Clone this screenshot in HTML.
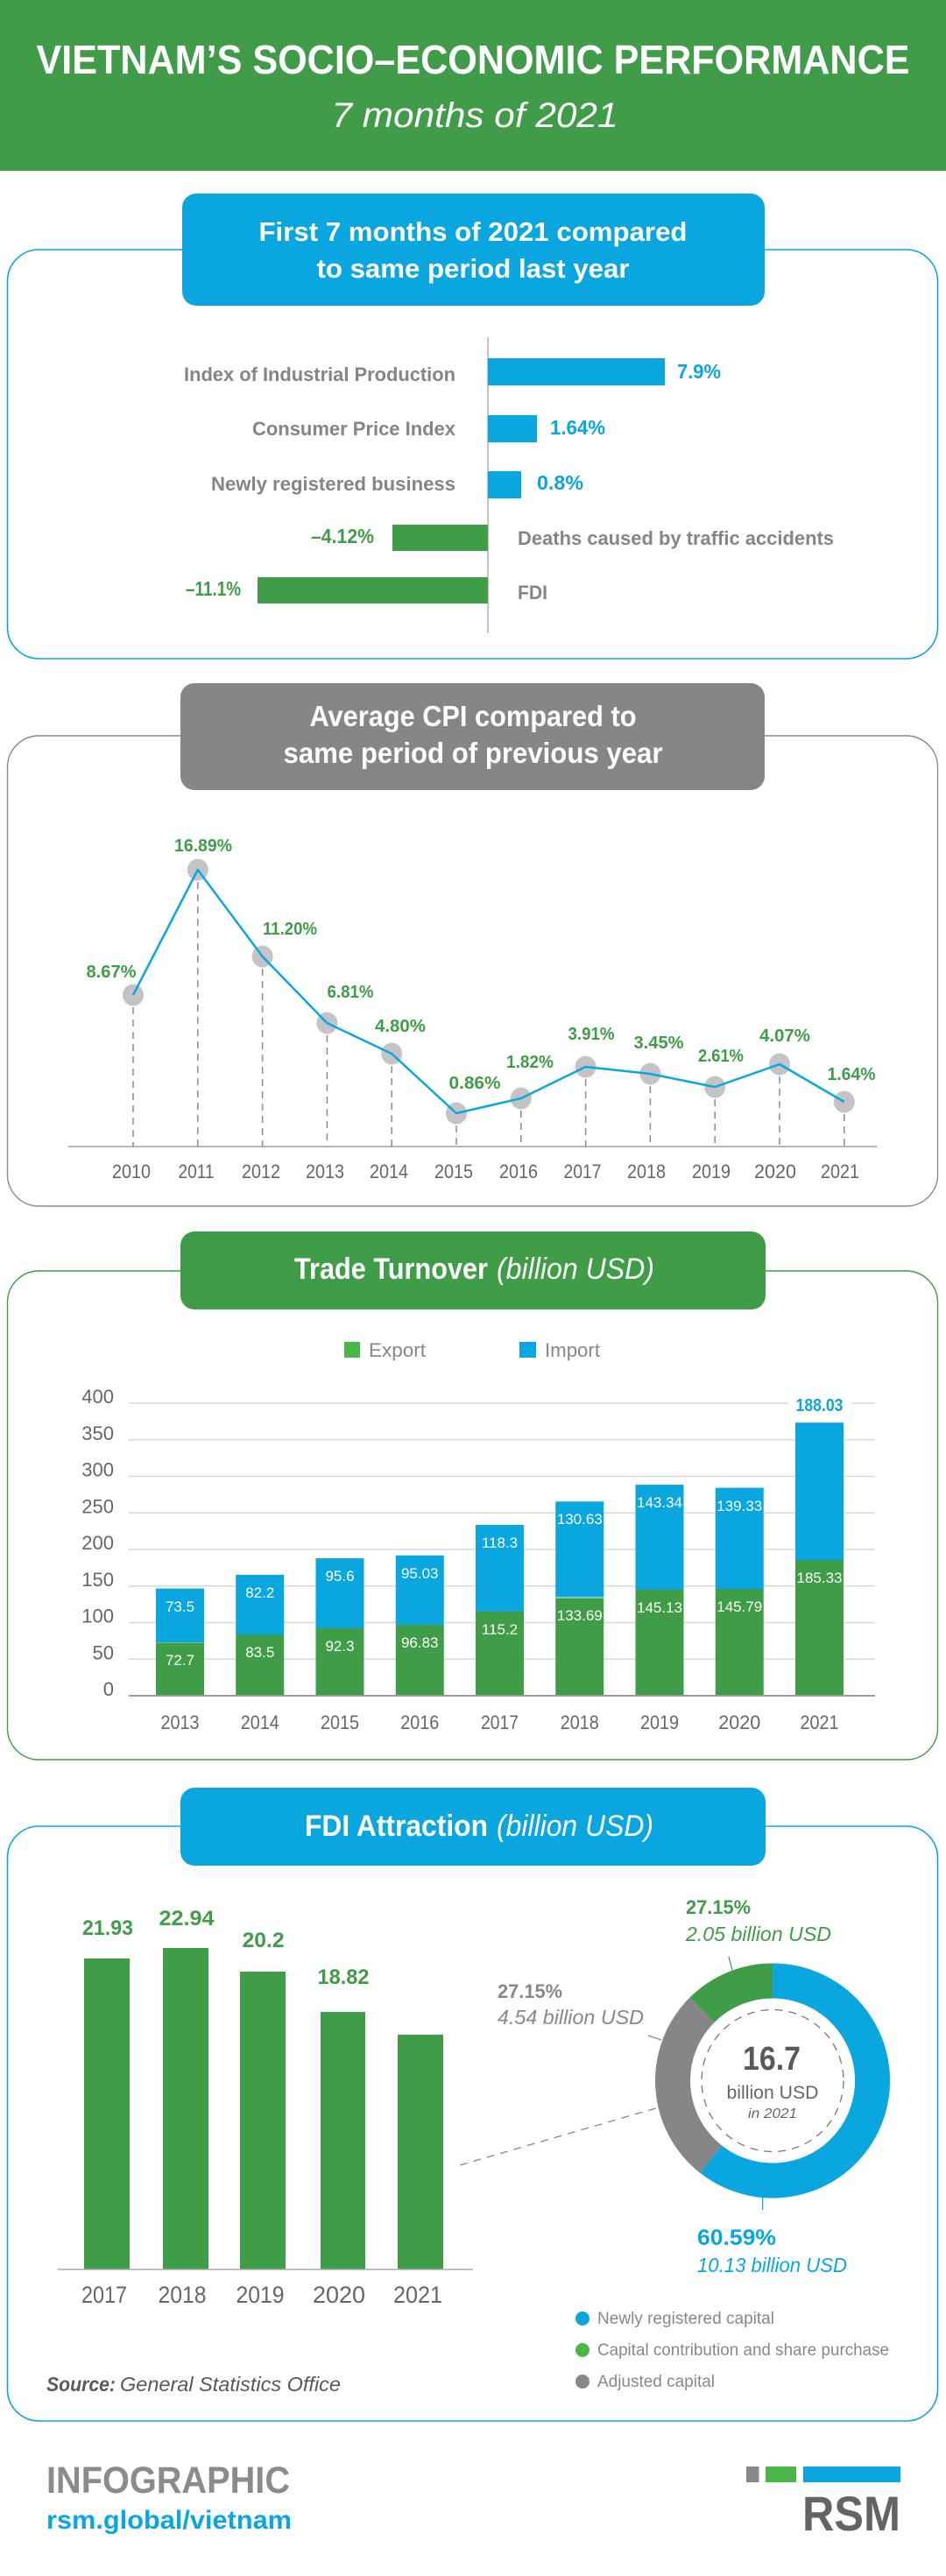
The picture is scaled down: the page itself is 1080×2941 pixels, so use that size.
<!DOCTYPE html>
<html>
<head>
<meta charset="utf-8">
<style>
html,body{margin:0;padding:0;background:#fff;}
svg{display:block;}
</style>
</head>
<body>
<svg width="1080" height="2941" viewBox="0 0 1080 2941" xmlns="http://www.w3.org/2000/svg" font-family="'Liberation Sans', sans-serif">
<rect x="0" y="0" width="1080" height="2941" fill="#ffffff"/>

<!-- HEADER -->
<rect x="0" y="0" width="1080" height="195" fill="#409c48"/>
<text x="540" y="84" text-anchor="middle" font-size="46" font-weight="bold" fill="#fff" textLength="997" lengthAdjust="spacingAndGlyphs">VIETNAM’S SOCIO–ECONOMIC PERFORMANCE</text>
<text x="542" y="145" text-anchor="middle" font-size="40" font-style="italic" fill="#fff" textLength="327" lengthAdjust="spacingAndGlyphs">7 months of 2021</text>

<!-- SECTION 1 -->
<rect x="8.5" y="285" width="1062" height="467" rx="36" fill="none" stroke="#0aa6e0" stroke-width="1.6"/>
<rect x="208" y="221" width="665" height="128" rx="16" fill="#0aa6e0"/>
<text x="540" y="275" text-anchor="middle" font-size="31" font-weight="bold" fill="#fff" textLength="489" lengthAdjust="spacingAndGlyphs">First 7 months of 2021 compared</text>
<text x="540" y="317" text-anchor="middle" font-size="31" font-weight="bold" fill="#fff" textLength="357" lengthAdjust="spacingAndGlyphs">to same period last year</text>

<line x1="557" y1="385" x2="557" y2="723" stroke="#8a8a8a" stroke-width="1"/>
<rect x="557" y="409" width="202" height="31" fill="#0aa6e0"/>
<rect x="557" y="474" width="56" height="31" fill="#0aa6e0"/>
<rect x="557" y="538" width="38" height="31" fill="#0aa6e0"/>
<rect x="448" y="599" width="109" height="30" fill="#3f9c47"/>
<rect x="294" y="659" width="263" height="30" fill="#3f9c47"/>

<g font-size="22" font-weight="bold" fill="#858585">
<text x="210" y="435" textLength="310" lengthAdjust="spacingAndGlyphs">Index of Industrial Production</text>
<text x="288" y="497" textLength="232" lengthAdjust="spacingAndGlyphs">Consumer Price Index</text>
<text x="241" y="560" textLength="279" lengthAdjust="spacingAndGlyphs">Newly registered business</text>
<text x="591" y="622" textLength="361" lengthAdjust="spacingAndGlyphs">Deaths caused by traffic accidents</text>
<text x="591" y="684" textLength="34" lengthAdjust="spacingAndGlyphs">FDI</text>
</g>
<g font-size="23" font-weight="bold">
<text x="773" y="432" fill="#0aa6e0" textLength="50" lengthAdjust="spacingAndGlyphs">7.9%</text>
<text x="628" y="496" fill="#0aa6e0" textLength="63" lengthAdjust="spacingAndGlyphs">1.64%</text>
<text x="613" y="559" fill="#0aa6e0" textLength="53" lengthAdjust="spacingAndGlyphs">0.8%</text>
<text x="355" y="620" fill="#3f9c47" textLength="72" lengthAdjust="spacingAndGlyphs">–4.12%</text>
<text x="212" y="680" fill="#3f9c47" textLength="63" lengthAdjust="spacingAndGlyphs">–11.1%</text>
</g>

<!-- SECTION 2 CPI -->
<rect x="8.5" y="840" width="1062" height="537" rx="36" fill="none" stroke="#8a8a8c" stroke-width="1.4"/>
<rect x="206" y="780" width="667" height="122" rx="16" fill="#858688"/>
<text x="540" y="829" text-anchor="middle" font-size="33" font-weight="bold" fill="#fff" textLength="373" lengthAdjust="spacingAndGlyphs">Average CPI compared to</text>
<text x="540" y="871" text-anchor="middle" font-size="33" font-weight="bold" fill="#fff" textLength="433" lengthAdjust="spacingAndGlyphs">same period of previous year</text>

<line x1="78" y1="1309" x2="1001" y2="1309" stroke="#b8b8b8" stroke-width="2"/>
<g stroke="#8a8a8a" stroke-width="1.5" stroke-dasharray="8 6">
<line x1="152" y1="1136" x2="152" y2="1309"/>
<line x1="225.8" y1="993" x2="225.8" y2="1309"/>
<line x1="299.6" y1="1092" x2="299.6" y2="1309"/>
<line x1="373.4" y1="1168" x2="373.4" y2="1309"/>
<line x1="447.2" y1="1203" x2="447.2" y2="1309"/>
<line x1="521" y1="1271" x2="521" y2="1309"/>
<line x1="594.8" y1="1254" x2="594.8" y2="1309"/>
<line x1="668.6" y1="1218" x2="668.6" y2="1309"/>
<line x1="742.4" y1="1226" x2="742.4" y2="1309"/>
<line x1="816.2" y1="1241" x2="816.2" y2="1309"/>
<line x1="890" y1="1215" x2="890" y2="1309"/>
<line x1="963.8" y1="1258" x2="963.8" y2="1309"/>
</g>
<g fill="#c4c4c6">
<ellipse cx="152" cy="1136" rx="12" ry="12.5"/>
<ellipse cx="225.8" cy="993" rx="12" ry="12.5"/>
<ellipse cx="299.6" cy="1092" rx="12" ry="12.5"/>
<ellipse cx="373.4" cy="1168" rx="12" ry="12.5"/>
<ellipse cx="447.2" cy="1203" rx="12" ry="12.5"/>
<ellipse cx="521" cy="1271" rx="12" ry="12.5"/>
<ellipse cx="594.8" cy="1254" rx="12" ry="12.5"/>
<ellipse cx="668.6" cy="1218" rx="12" ry="12.5"/>
<ellipse cx="742.4" cy="1226" rx="12" ry="12.5"/>
<ellipse cx="816.2" cy="1241" rx="12" ry="12.5"/>
<ellipse cx="890" cy="1215" rx="12" ry="12.5"/>
<ellipse cx="963.8" cy="1258" rx="12" ry="12.5"/>
</g>
<polyline fill="none" stroke="#0aa6e0" stroke-width="2.5" stroke-linejoin="round" points="152,1136 225.8,993 299.6,1092 373.4,1168 447.2,1203 521,1271 594.8,1254 668.6,1218 742.4,1226 816.2,1241 890,1215 963.8,1258"/>

<g font-size="20" font-weight="bold" fill="#3f9c47" text-anchor="middle">
<text x="127" y="1116" textLength="57" lengthAdjust="spacingAndGlyphs">8.67%</text>
<text x="232" y="972" textLength="66" lengthAdjust="spacingAndGlyphs">16.89%</text>
<text x="331" y="1067" textLength="62" lengthAdjust="spacingAndGlyphs">11.20%</text>
<text x="400" y="1139" textLength="53" lengthAdjust="spacingAndGlyphs">6.81%</text>
<text x="457" y="1178" textLength="58" lengthAdjust="spacingAndGlyphs">4.80%</text>
<text x="542" y="1243" textLength="59" lengthAdjust="spacingAndGlyphs">0.86%</text>
<text x="605" y="1219" textLength="54" lengthAdjust="spacingAndGlyphs">1.82%</text>
<text x="675" y="1187" textLength="53" lengthAdjust="spacingAndGlyphs">3.91%</text>
<text x="752" y="1197" textLength="57" lengthAdjust="spacingAndGlyphs">3.45%</text>
<text x="823" y="1212" textLength="52" lengthAdjust="spacingAndGlyphs">2.61%</text>
<text x="896" y="1189" textLength="58" lengthAdjust="spacingAndGlyphs">4.07%</text>
<text x="972" y="1233" textLength="55" lengthAdjust="spacingAndGlyphs">1.64%</text>
</g>
<g font-size="22" fill="#666" text-anchor="middle">
<text x="150" y="1345" textLength="44" lengthAdjust="spacingAndGlyphs">2010</text>
<text x="224" y="1345" textLength="41" lengthAdjust="spacingAndGlyphs">2011</text>
<text x="298" y="1345" textLength="44" lengthAdjust="spacingAndGlyphs">2012</text>
<text x="371" y="1345" textLength="44" lengthAdjust="spacingAndGlyphs">2013</text>
<text x="444" y="1345" textLength="44" lengthAdjust="spacingAndGlyphs">2014</text>
<text x="518" y="1345" textLength="44" lengthAdjust="spacingAndGlyphs">2015</text>
<text x="592" y="1345" textLength="44" lengthAdjust="spacingAndGlyphs">2016</text>
<text x="665" y="1345" textLength="43" lengthAdjust="spacingAndGlyphs">2017</text>
<text x="738" y="1345" textLength="44" lengthAdjust="spacingAndGlyphs">2018</text>
<text x="812" y="1345" textLength="44" lengthAdjust="spacingAndGlyphs">2019</text>
<text x="885" y="1345" textLength="48" lengthAdjust="spacingAndGlyphs">2020</text>
<text x="959" y="1345" textLength="44" lengthAdjust="spacingAndGlyphs">2021</text>
</g>

<!-- SECTION 3 TRADE -->
<rect x="8.5" y="1451" width="1062" height="558" rx="36" fill="none" stroke="#3f9c47" stroke-width="1.4"/>
<rect x="206" y="1406" width="668" height="89" rx="16" fill="#3f9c47"/>
<text x="336" y="1460" font-size="34" font-weight="bold" fill="#fff" textLength="221" lengthAdjust="spacingAndGlyphs">Trade Turnover</text>
<text x="567" y="1460" font-size="34" font-style="italic" fill="#fff" textLength="180" lengthAdjust="spacingAndGlyphs">(billion USD)</text>

<rect x="393" y="1532" width="18" height="18" fill="#4cb548"/>
<text x="421" y="1549" font-size="22" fill="#888" textLength="65" lengthAdjust="spacingAndGlyphs">Export</text>
<rect x="593" y="1532" width="19" height="18" fill="#0aa6e0"/>
<text x="622" y="1549" font-size="22" fill="#888" textLength="63" lengthAdjust="spacingAndGlyphs">Import</text>

<g stroke="#d8d8d8" stroke-width="1.5">
<line x1="147" y1="1602" x2="999" y2="1602"/>
<line x1="147" y1="1643.8" x2="999" y2="1643.8"/>
<line x1="147" y1="1685.5" x2="999" y2="1685.5"/>
<line x1="147" y1="1727.3" x2="999" y2="1727.3"/>
<line x1="147" y1="1769" x2="999" y2="1769"/>
<line x1="147" y1="1810.8" x2="999" y2="1810.8"/>
<line x1="147" y1="1852.5" x2="999" y2="1852.5"/>
<line x1="147" y1="1894.3" x2="999" y2="1894.3"/>
</g>
<g font-size="22" fill="#666" text-anchor="end">
<text x="130" y="1602">400</text>
<text x="130" y="1643.8">350</text>
<text x="130" y="1685.5">300</text>
<text x="130" y="1727.3">250</text>
<text x="130" y="1769">200</text>
<text x="130" y="1810.8">150</text>
<text x="130" y="1852.5">100</text>
<text x="130" y="1894.3">50</text>
<text x="130" y="1936">0</text>
</g>

<!-- bars: y(v)=1936-0.835v -->
<g>
<rect x="178" y="1813.6" width="55" height="61.4" fill="#0aa6e0"/><rect x="178" y="1875.3" width="55" height="60.7" fill="#3f9c47"/>
<rect x="269.25" y="1797.9" width="55" height="68.7" fill="#0aa6e0"/><rect x="269.25" y="1866.3" width="55" height="69.7" fill="#3f9c47"/>
<rect x="360.5" y="1779.1" width="55" height="79.9" fill="#0aa6e0"/><rect x="360.5" y="1858.9" width="55" height="77.1" fill="#3f9c47"/>
<rect x="451.75" y="1775.8" width="55" height="79.4" fill="#0aa6e0"/><rect x="451.75" y="1855.1" width="55" height="80.9" fill="#3f9c47"/>
<rect x="543" y="1741" width="55" height="98.9" fill="#0aa6e0"/><rect x="543" y="1839.8" width="55" height="96.2" fill="#3f9c47"/>
<rect x="634.25" y="1714.3" width="55" height="109.3" fill="#0aa6e0"/><rect x="634.25" y="1824.4" width="55" height="111.6" fill="#3f9c47"/>
<rect x="725.5" y="1695.1" width="55" height="119.9" fill="#0aa6e0"/><rect x="725.5" y="1814.8" width="55" height="121.2" fill="#3f9c47"/>
<rect x="816.75" y="1698.6" width="55" height="116.7" fill="#0aa6e0"/><rect x="816.75" y="1814.3" width="55" height="121.7" fill="#3f9c47"/>
<rect x="908" y="1624.2" width="55" height="157.4" fill="#0aa6e0"/><rect x="908" y="1781.2" width="55" height="154.8" fill="#3f9c47"/>
</g>
<line x1="147" y1="1936" x2="999" y2="1936" stroke="#9a9a9a" stroke-width="2"/>

<g font-size="17" fill="#fff" text-anchor="middle">
<text x="205.5" y="1840">73.5</text><text x="205.5" y="1901">72.7</text>
<text x="296.75" y="1824">82.2</text><text x="296.75" y="1892">83.5</text>
<text x="388" y="1805">95.6</text><text x="388" y="1885">92.3</text>
<text x="479.25" y="1802">95.03</text><text x="479.25" y="1881">96.83</text>
<text x="570.5" y="1767">118.3</text><text x="570.5" y="1866">115.2</text>
<text x="661.75" y="1740">130.63</text><text x="661.75" y="1850">133.69</text>
<text x="753" y="1721">143.34</text><text x="753" y="1841">145.13</text>
<text x="844.25" y="1725">139.33</text><text x="844.25" y="1840">145.79</text>
<text x="935.5" y="1807">185.33</text>
</g>
<rect x="900" y="1592" width="72" height="24" fill="#fff"/>
<text x="935.5" y="1611" font-size="20" font-weight="bold" fill="#0aa6e0" text-anchor="middle" textLength="54" lengthAdjust="spacingAndGlyphs">188.03</text>

<g font-size="22" fill="#666" text-anchor="middle">
<text x="205.5" y="1974" textLength="44" lengthAdjust="spacingAndGlyphs">2013</text>
<text x="296.75" y="1974" textLength="44" lengthAdjust="spacingAndGlyphs">2014</text>
<text x="388" y="1974" textLength="44" lengthAdjust="spacingAndGlyphs">2015</text>
<text x="479.25" y="1974" textLength="44" lengthAdjust="spacingAndGlyphs">2016</text>
<text x="570.5" y="1974" textLength="43" lengthAdjust="spacingAndGlyphs">2017</text>
<text x="661.75" y="1974" textLength="44" lengthAdjust="spacingAndGlyphs">2018</text>
<text x="753" y="1974" textLength="44" lengthAdjust="spacingAndGlyphs">2019</text>
<text x="844.25" y="1974" textLength="48" lengthAdjust="spacingAndGlyphs">2020</text>
<text x="935.5" y="1974" textLength="44" lengthAdjust="spacingAndGlyphs">2021</text>
</g>

<!-- SECTION 4 FDI -->
<rect x="8.5" y="2085" width="1062" height="679" rx="36" fill="none" stroke="#0aa6e0" stroke-width="1.6"/>
<rect x="206" y="2041" width="668" height="89" rx="16" fill="#0aa6e0"/>
<text x="348" y="2096" font-size="34" font-weight="bold" fill="#fff" textLength="209" lengthAdjust="spacingAndGlyphs">FDI Attraction</text>
<text x="567" y="2096" font-size="34" font-style="italic" fill="#fff" textLength="179" lengthAdjust="spacingAndGlyphs">(billion USD)</text>

<g fill="#3f9c47">
<rect x="96" y="2236" width="52" height="355"/>
<rect x="186" y="2224" width="52" height="367"/>
<rect x="274" y="2251" width="52" height="340"/>
<rect x="366" y="2297" width="51" height="294"/>
<rect x="454" y="2323" width="52" height="268"/>
</g>
<line x1="66" y1="2591" x2="540" y2="2591" stroke="#aaa" stroke-width="1.5"/>
<g font-size="24" font-weight="bold" fill="#3f9c47" text-anchor="middle">
<text x="123" y="2209" textLength="58" lengthAdjust="spacingAndGlyphs">21.93</text>
<text x="213" y="2198" textLength="63" lengthAdjust="spacingAndGlyphs">22.94</text>
<text x="300.6" y="2223" textLength="48" lengthAdjust="spacingAndGlyphs">20.2</text>
<text x="392" y="2265" textLength="59" lengthAdjust="spacingAndGlyphs">18.82</text>
</g>
<g font-size="27" fill="#666" text-anchor="middle">
<text x="119" y="2629" textLength="52" lengthAdjust="spacingAndGlyphs">2017</text>
<text x="208" y="2629" textLength="55" lengthAdjust="spacingAndGlyphs">2018</text>
<text x="297" y="2629" textLength="55" lengthAdjust="spacingAndGlyphs">2019</text>
<text x="387" y="2629" textLength="60" lengthAdjust="spacingAndGlyphs">2020</text>
<text x="477" y="2629" textLength="56" lengthAdjust="spacingAndGlyphs">2021</text>
</g>

<!-- connector -->
<line x1="525" y1="2472" x2="752" y2="2406" stroke="#888" stroke-width="1.3" stroke-dasharray="9 7"/>

<!-- donut -->
<g fill="none" stroke-width="40">
<path d="M 882 2261.5 A 114 114 0 1 1 811.7 2465.2" stroke="#0aa6e0"/>
<path d="M 811.7 2465.2 A 114 114 0 0 1 801.4 2294.9" stroke="#858688"/>
<path d="M 801.4 2294.9 A 114 114 0 0 1 882 2261.5" stroke="#3f9c47"/>
</g>
<circle cx="882" cy="2375.5" r="81" fill="none" stroke="#777" stroke-width="1.3" stroke-dasharray="9 7"/>
<text x="881" y="2363" text-anchor="middle" font-size="38" font-weight="bold" fill="#58595b" textLength="66" lengthAdjust="spacingAndGlyphs">16.7</text>
<text x="882" y="2396" text-anchor="middle" font-size="21" fill="#666" textLength="105" lengthAdjust="spacingAndGlyphs">billion USD</text>
<text x="882" y="2418" text-anchor="middle" font-size="16" font-style="italic" fill="#666" textLength="56" lengthAdjust="spacingAndGlyphs">in 2021</text>

<line x1="832" y1="2234" x2="836" y2="2249" stroke="#3f9c47" stroke-width="1.3"/>
<line x1="740" y1="2324" x2="755" y2="2329" stroke="#888" stroke-width="1.3"/>
<line x1="870.6" y1="2509" x2="870.6" y2="2523" stroke="#0aa6e0" stroke-width="1.3"/>

<text x="783" y="2185" font-size="22" font-weight="bold" fill="#3f9c47" textLength="74" lengthAdjust="spacingAndGlyphs">27.15%</text>
<text x="783" y="2216" font-size="23" font-style="italic" fill="#3f9c47" textLength="166" lengthAdjust="spacingAndGlyphs">2.05 billion USD</text>
<text x="568" y="2281" font-size="22" font-weight="bold" fill="#888" textLength="74" lengthAdjust="spacingAndGlyphs">27.15%</text>
<text x="568" y="2311" font-size="23" font-style="italic" fill="#888" textLength="167" lengthAdjust="spacingAndGlyphs">4.54 billion USD</text>
<text x="796" y="2563" font-size="25" font-weight="bold" fill="#0aa6e0" textLength="90" lengthAdjust="spacingAndGlyphs">60.59%</text>
<text x="796" y="2594" font-size="23" font-style="italic" fill="#0aa6e0" textLength="171" lengthAdjust="spacingAndGlyphs">10.13 billion USD</text>

<!-- legend -->
<circle cx="665" cy="2647" r="8" fill="#0aa6e0"/>
<circle cx="665" cy="2683" r="8" fill="#4cb548"/>
<circle cx="665" cy="2719" r="8" fill="#868789"/>
<g font-size="19" fill="#888">
<text x="682" y="2653" textLength="202" lengthAdjust="spacingAndGlyphs">Newly registered capital</text>
<text x="682" y="2689" textLength="333" lengthAdjust="spacingAndGlyphs">Capital contribution and share purchase</text>
<text x="682" y="2725" textLength="134" lengthAdjust="spacingAndGlyphs">Adjusted capital</text>
</g>

<text x="53" y="2730" font-size="23" font-weight="bold" font-style="italic" fill="#58595b" textLength="79" lengthAdjust="spacingAndGlyphs">Source:</text>
<text x="137" y="2730" font-size="23" font-style="italic" fill="#58595b" textLength="252" lengthAdjust="spacingAndGlyphs">General Statistics Office</text>

<!-- FOOTER -->
<text x="53" y="2846" font-size="43" font-weight="bold" fill="#8a8b8d" textLength="278" lengthAdjust="spacingAndGlyphs">INFOGRAPHIC</text>
<text x="53" y="2887" font-size="30" font-weight="bold" fill="#0aa6e0" textLength="280" lengthAdjust="spacingAndGlyphs">rsm.global/vietnam</text>

<rect x="852" y="2816" width="14.5" height="18" fill="#868789"/>
<rect x="874" y="2816" width="35" height="18" fill="#4cb548"/>
<rect x="917" y="2816" width="111" height="18" fill="#0aa6e0"/>
<text x="916" y="2889" font-size="56" font-weight="bold" fill="#636466" textLength="112" lengthAdjust="spacingAndGlyphs">RSM</text>
</svg>
</body>
</html>
